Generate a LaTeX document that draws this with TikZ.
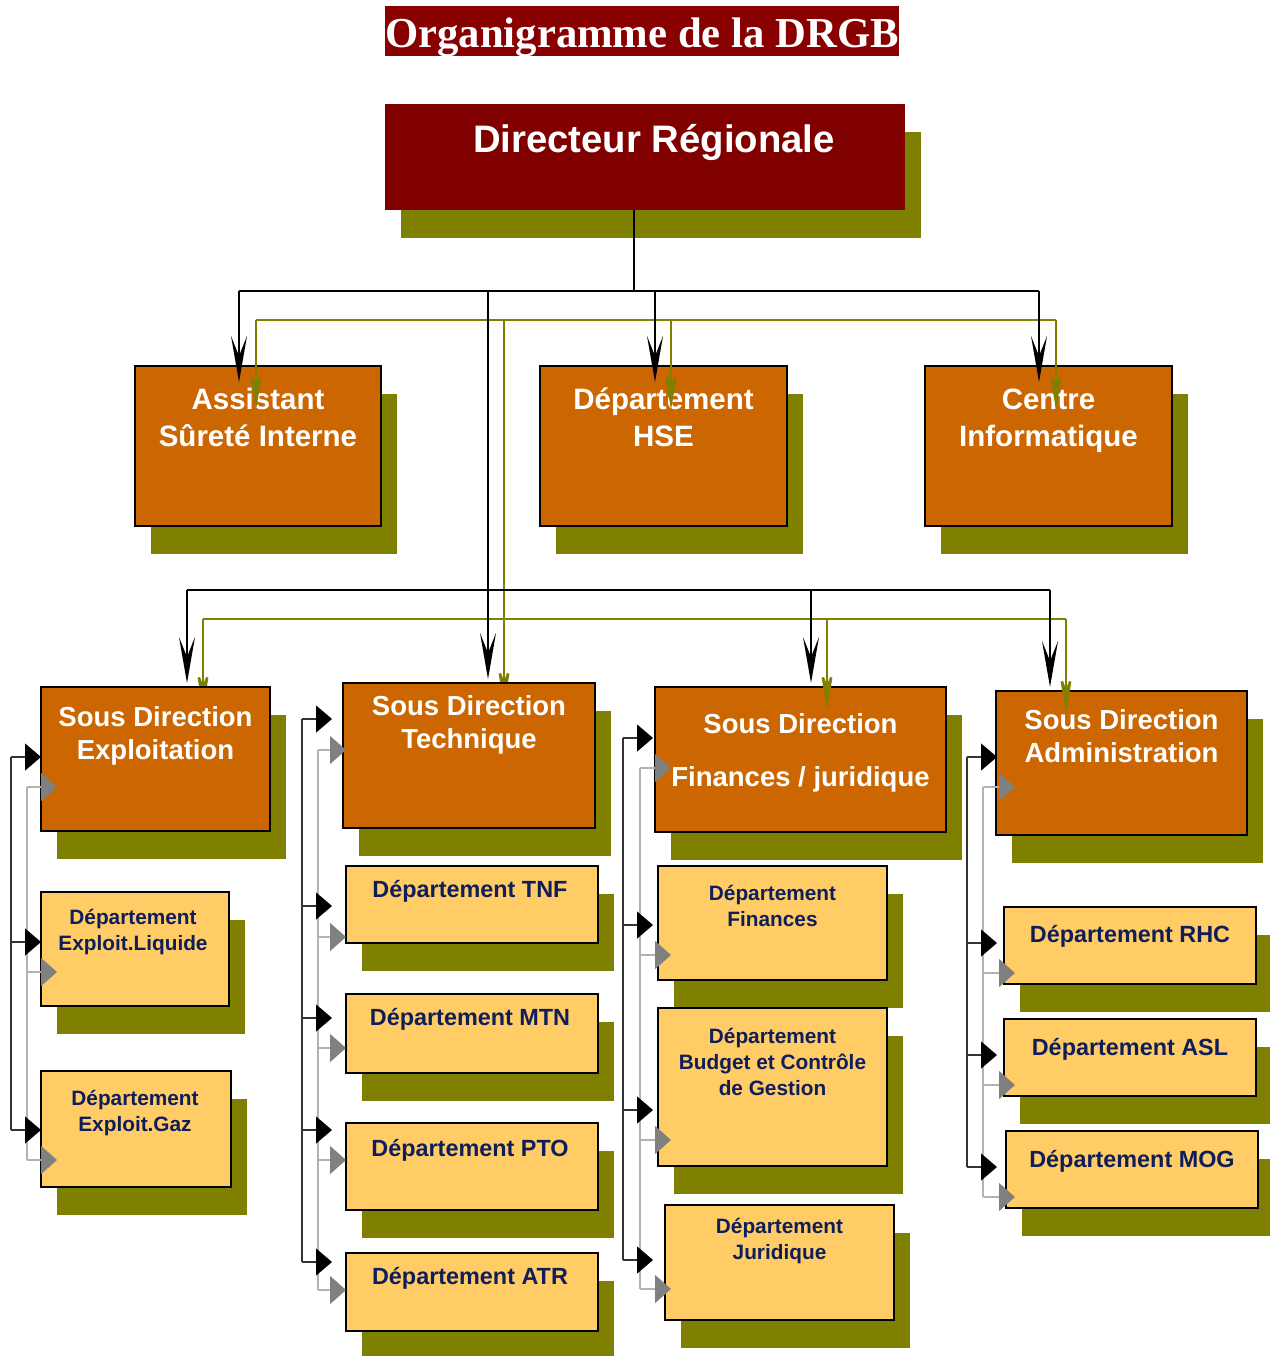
\documentclass[tikz,border=0pt]{standalone}
\usepackage{fontspec}
\setmainfont{Liberation Sans}
\newfontfamily\titlefont{Liberation Serif}
\usetikzlibrary{arrows.meta}
\usetikzlibrary{shadows}

\definecolor{dkred}{HTML}{800000}
\definecolor{ttlred}{HTML}{880000}
\definecolor{olv}{HTML}{808000}
\definecolor{sdorange}{HTML}{CC6600}
\definecolor{dptyellow}{HTML}{FFCC66}
\definecolor{navy}{HTML}{0F1E5A}

\pgfdeclarelayer{bg}
\pgfsetlayers{bg,main}

\tikzset{
  shbox/.style={general shadow={fill=olv, shadow xshift=16pt, shadow yshift=-28pt}},
  dirbox/.style={shbox, fill=dkred, anchor=north west, inner sep=0pt, outer sep=0pt},
  sdbox/.style={shbox, draw=black, line width=2.5pt, fill=sdorange, anchor=north west, inner sep=0pt, outer sep=0pt},
  dptbox/.style={shbox, draw=black, line width=2.5pt, fill=dptyellow, anchor=north west, inner sep=0pt, outer sep=0pt},
  dirtxt/.style={text=white, font=\bfseries\fontsize{38.3}{44}\selectfont},
  chef/.style={text=white, font=\bfseries\fontsize{29.5}{37}\selectfont, align=center},
  sdtxt/.style={text=white, font=\bfseries\fontsize{27.5}{33}\selectfont, align=center},
  dpttxt/.style={text=navy, font=\bfseries\fontsize{20.8}{26}\selectfont, align=center},
  dptbig/.style={text=navy, font=\bfseries\fontsize{23.4}{28}\selectfont},
  kline/.style={draw=black, line width=2.5pt},
  oline/.style={draw=olv, line width=2.5pt},
  karr/.style={kline, -{Stealth[length=46pt, width=16pt, inset=20pt]}},
  oarr/.style={oline, -{Stealth[length=45pt, width=15pt, inset=20pt]}},
  klink/.style={draw=black!80, line width=1.5pt},
  glink/.style={draw=black!30, line width=1.5pt},
  ktri/.style={-{Triangle[length=16pt, width=27pt, color=black]}},
  gtri/.style={-{Triangle[length=16pt, width=28pt, color=black!50]}}
}

\begin{document}
\begin{tikzpicture}[x=1pt, y=-1pt]
  \useasboundingbox (0,0) rectangle (1269,1356);

  % titre
  \node[fill=ttlred, text=white, font=\titlefont\bfseries\fontsize{42.7}{43}\selectfont,
        inner sep=0pt, minimum width=514pt, text height=41pt, text depth=9pt, anchor=north]
        (titre) at (642,6) {Organigramme de la DRGB};

  % direction
  \node[dirbox, minimum width=520pt, minimum height=106pt] (dir) at (385,104) {};
  \node[dirtxt] at ([xshift=9pt, yshift=-39pt]dir.north) {Directeur Régionale};

  % rattachements directs
  \node[sdbox, minimum width=246pt, minimum height=160pt] (asst) at (135,366) {};
  \node[sdbox, minimum width=247pt, minimum height=160pt] (hse) at (540,366) {};
  \node[sdbox, minimum width=247pt, minimum height=160pt] (cinfo) at (925,366) {};
  \node[chef] at ([yshift=-51pt]asst.north) {Assistant\\Sûreté Interne};
  \node[chef] at ([yshift=-51pt]hse.north) {Département\\HSE};
  \node[chef] at ([yshift=-55pt]cinfo.north) {Centre\\Informatique};

  % sous directions
  \node[sdbox, minimum width=229pt, minimum height=144pt] (sdexp) at (41,687) {};
  \node[sdbox, minimum width=252pt, minimum height=145pt] (sdtec) at (343,683) {};
  \node[sdbox, minimum width=291pt, minimum height=145pt] (sdfin) at (655,687) {};
  \node[sdbox, minimum width=251pt, minimum height=144pt] (sdadm) at (996,691) {};
  \node[sdtxt] at ([yshift=-48.5pt]sdexp.north) {Sous Direction\\Exploitation};
  \node[sdtxt] at ([yshift=-42pt]sdtec.north) {Sous Direction\\Technique};
  \node[sdtxt] at ([yshift=-66pt]sdfin.north) {Sous Direction\\[20pt]Finances / juridique};
  \node[sdtxt] at ([yshift=-45pt]sdadm.north) {Sous Direction\\Administration};

  % departements
  \node[dptbox, minimum width=188pt, minimum height=114pt] (dliq) at (41,892) {};
  \node[dptbox, minimum width=190pt, minimum height=116pt] (dgaz) at (41,1071) {};
  \node[dptbox, minimum width=252pt, minimum height=77pt] (dtnf) at (346,866) {};
  \node[dptbox, minimum width=252pt, minimum height=79pt] (dmtn) at (346,994) {};
  \node[dptbox, minimum width=252pt, minimum height=87pt] (dpto) at (346,1123) {};
  \node[dptbox, minimum width=252pt, minimum height=78pt] (datr) at (346,1253) {};
  \node[dptbox, minimum width=229pt, minimum height=114pt] (dfin) at (658,866) {};
  \node[dptbox, minimum width=229pt, minimum height=158pt] (dbud) at (658,1008) {};
  \node[dptbox, minimum width=229pt, minimum height=115pt] (djur) at (665,1205) {};
  \node[dptbox, minimum width=252pt, minimum height=77pt] (drhc) at (1004,907) {};
  \node[dptbox, minimum width=252pt, minimum height=77pt] (dasl) at (1004,1019) {};
  \node[dptbox, minimum width=252pt, minimum height=77pt] (dmog) at (1006,1131) {};
  \node[dpttxt] at ([xshift=-2pt, yshift=-40pt]dliq.north) {Département\\Exploit.Liquide};
  \node[dpttxt] at ([xshift=-1pt, yshift=-42.5pt]dgaz.north) {Département\\Exploit.Gaz};
  \node[dptbig] at ([xshift=-2pt, yshift=-25pt]dtnf.north) {Département TNF};
  \node[dptbig] at ([xshift=-2pt, yshift=-25pt]dmtn.north) {Département MTN};
  \node[dptbig] at ([xshift=-2pt, yshift=-27pt]dpto.north) {Département PTO};
  \node[dptbig] at ([xshift=-2pt, yshift=-25pt]datr.north) {Département ATR};
  \node[dpttxt] at ([yshift=-40pt]dfin.north) {Département\\Finances};
  \node[dpttxt] at ([yshift=-54pt]dbud.north) {Département\\Budget et Contrôle\\de Gestion};
  \node[dpttxt] at ([yshift=-36pt]djur.north) {Département\\Juridique};
  \node[dptbig] at ([yshift=-29pt]drhc.north) {Département RHC};
  \node[dptbig] at ([yshift=-30pt]dasl.north) {Département ASL};
  \node[dptbig] at ([yshift=-30pt]dmog.north) {Département MOG};

  % liaisons hierarchiques (olive)
  \coordinate (o1) at (256,320);
  \coordinate (o2) at (671,320);
  \coordinate (o3) at (1056,320);
  \coordinate (ot) at (504,320);
  \coordinate (oc) at (504,619);
  \coordinate (o4) at (203,619);
  \coordinate (o5) at (827,619);
  \coordinate (o6) at (1066,619);
  \draw[oline] (o1) -- (o3);
  \draw[oline] (ot) -- (oc);
  \draw[oline] (o4) -- (o6);
  \foreach \c/\n in {o1/asst, o2/hse, o3/cinfo}
    \draw[oarr] (\c) -- ([yshift=-44pt]\c |- \n.north);
  \foreach \c/\n in {o5/sdfin, o6/sdadm}
    \draw[oarr] (\c) -- ([yshift=-23pt]\c |- \n.north);
  \begin{pgfonlayer}{bg}
    \foreach \c/\n in {oc/sdtec, o4/sdexp}
      \draw[oarr] (\c) -- ([yshift=-23pt]\c |- \n.north);
  \end{pgfonlayer}

  % liaisons hierarchiques (noir)
  \coordinate (k0) at (634,291);
  \coordinate (k1) at (239,291);
  \coordinate (k2) at (655,291);
  \coordinate (k3) at (1039,291);
  \coordinate (kt) at (488,291);
  \coordinate (kc) at (488,590);
  \coordinate (k4) at (187,590);
  \coordinate (k5) at (811,590);
  \coordinate (k6) at (1050,590);
  \draw[kline] (k0 |- dir.south) -- (k0);
  \draw[kline] (k1) -- (k3);
  \draw[kline] (kt) -- (kc);
  \draw[kline] (k4) -- (k6);
  \foreach \c/\n in {k1/asst, k2/hse, k3/cinfo}
    \draw[karr] (\c) -- ([yshift=-16pt]\c |- \n.north);
  \foreach \c/\n in {kc/sdtec, k4/sdexp, k5/sdfin, k6/sdadm}
    \draw[karr] (\c) -- ([yshift=4pt]\c |- \n.north);

  % colonne 1
  \coordinate (kb1) at (11,757);
  \coordinate (gb1) at (27,787);
  \draw[klink] (kb1) -- (kb1 |- 0,1130);
  \draw[glink] (gb1) -- (gb1 |- 0,1160);
  \foreach \y in {757,942,1130}
    \draw[klink, ktri] (kb1 |- 0,\y) -- (sdexp.west |- 0,\y);
  \foreach \y in {787,972,1160}
    \draw[glink, gtri] (gb1 |- 0,\y) -- ([xshift=16pt]sdexp.west |- 0,\y);

  % colonne 2
  \coordinate (kb2) at (302,719);
  \coordinate (gb2) at (318,750);
  \draw[klink] (kb2) -- (kb2 |- 0,1262);
  \draw[glink] (gb2) -- (gb2 |- 0,1290);
  \foreach \y in {719,906,1018,1130,1262}
    \draw[klink, ktri] (kb2 |- 0,\y) -- ([xshift=-11pt]sdtec.west |- 0,\y);
  \foreach \y in {750,937,1048,1160,1290}
    \draw[glink, gtri] (gb2 |- 0,\y) -- ([xshift=3pt]sdtec.west |- 0,\y);

  % colonne 3
  \coordinate (kb3) at (623,738);
  \coordinate (gb3) at (640,768);
  \draw[klink] (kb3) -- (kb3 |- 0,1260);
  \draw[glink] (gb3) -- (gb3 |- 0,1289);
  \foreach \y in {738,925,1110,1260}
    \draw[klink, ktri] (kb3 |- 0,\y) -- ([xshift=-2pt]sdfin.west |- 0,\y);
  \foreach \y in {768,955,1140,1289}
    \draw[glink, gtri] (gb3 |- 0,\y) -- ([xshift=16pt]sdfin.west |- 0,\y);

  % colonne 4
  \coordinate (kb4) at (967,757);
  \coordinate (gb4) at (983,787);
  \draw[klink] (kb4) -- (kb4 |- 0,1167);
  \draw[glink] (gb4) -- (gb4 |- 0,1197);
  \foreach \y in {757,943,1055,1167}
    \draw[klink, ktri] (kb4 |- 0,\y) -- ([xshift=1pt]sdadm.west |- 0,\y);
  \foreach \y in {787,973,1085,1197}
    \draw[glink, gtri] (gb4 |- 0,\y) -- ([xshift=19pt]sdadm.west |- 0,\y);
\end{tikzpicture}
\end{document}
